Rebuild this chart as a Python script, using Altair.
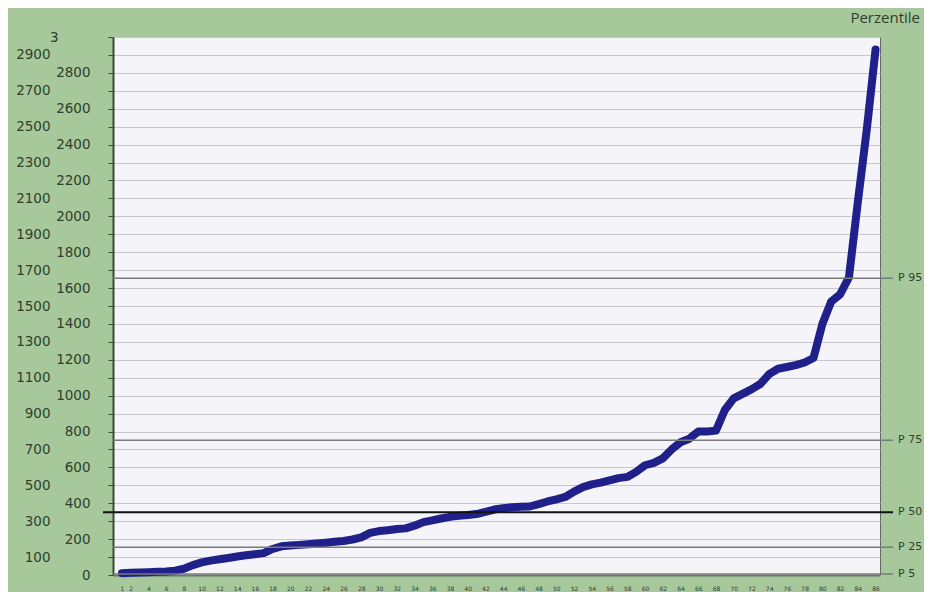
import altair as alt
import pandas as pd

# ---- data ----
x_index = list(range(1, 87))
values = [
    10, 12, 14, 16, 18, 20, 24, 35, 55, 70,
    80, 88, 95, 103, 110, 116, 122, 145, 160, 165,
    168, 172, 176, 180, 185, 190, 198, 210, 235, 245,
    250, 256, 260, 275, 295, 305, 315, 324, 330, 335,
    340, 352, 365, 373, 378, 380, 382, 395, 410, 422,
    435, 465, 490, 505, 515, 528, 540, 547, 575, 612,
    625, 650, 700, 740, 760, 800, 800, 805, 920, 985,
    1010, 1035, 1065, 1120, 1150, 1160, 1170, 1185, 1210, 1400,
    1525, 1565, 1660, 2080, 2480, 2930,
]
percentile_names = ["P 5", "P 25", "P 50", "P 75", "P 95"]
percentile_values = [5, 155, 350, 752, 1655]
y_tick_values = list(range(0, 3001, 100))
x_tick_values = [1] + list(range(2, 87, 2))
title_text = ["Perzentile"]

df = pd.DataFrame({"x": x_index, "v": values})
dp = pd.DataFrame({"name": percentile_names, "value": percentile_values})
dt = pd.DataFrame({"t": title_text})

GREEN = "#a7c89a"
TXT = "#2e3f30"

x_scale = alt.Scale(domain=[0, 86.5], nice=False, zero=False)
y_scale = alt.Scale(domain=[0, 3000], nice=False)

y_axis = alt.Axis(
    values=y_tick_values,
    format="d",
    labelExpr="datum.value === 3000 ? '3' : datum.label",
    labelPadding={
        "condition": [
            {"test": "datum.value === 3000", "value": 50},
            {"test": "datum.value % 200 !== 0", "value": 58},
        ],
        "value": 18,
    },
    labelFont="DejaVu Sans",
    labelFontSize=13.5,
    labelColor=TXT,
    labelBaseline="middle",
    labelOverlap=False,
    labelBound=False,
    tickSize=5,
    tickColor="#3a4a3a",
    domainColor="#3a4a3a",
    domainWidth=2,
    grid=True,
    gridColor="#c6c6cc",
    gridWidth=1,
    title=None,
)

x_axis = alt.Axis(
    values=x_tick_values,
    format="d",
    labelFont="DejaVu Sans",
    labelFontSize=6,
    labelColor=TXT,
    labelPadding=10,
    labelOverlap=False,
    labelAngle=0,
    ticks=False,
    domainColor="#6b7b6b",
    domainWidth=2,
    grid=False,
    title=None,
)

Y = lambda f: alt.Y(f, scale=y_scale, axis=y_axis)

line = alt.Chart(df).mark_line(
    color="#20208a", strokeWidth=8, strokeJoin="round", strokeCap="round"
).encode(
    x=alt.X("x:Q", scale=x_scale, axis=x_axis),
    y=Y("v:Q"),
)

rules_gray = alt.Chart(dp).transform_filter(
    "datum.name !== 'P 50'"
).mark_rule(color="#7a7a7a", strokeWidth=1.5).encode(
    y=Y("value:Q"),
    x=alt.value(0),
    x2=alt.value(780),
)

rule_median = alt.Chart(dp).transform_filter(
    "datum.name === 'P 50'"
).mark_rule(color="#111111", strokeWidth=2).encode(
    y=Y("value:Q"),
    x=alt.value(-10),
    x2=alt.value(780),
)

labels = alt.Chart(dp).mark_text(
    align="left", baseline="middle", font="DejaVu Sans", fontSize=11, color=TXT
).encode(
    y=Y("value:Q"),
    x=alt.value(785),
    text="name:N",
)

title = alt.Chart(dt).mark_text(
    align="right", baseline="middle", font="Open Sans", fontSize=15, color=TXT
).encode(
    x=alt.value(807),
    y=alt.value(-19),
    text="t:N",
)

chart = alt.layer(line, rules_gray, rule_median, labels, title).properties(
    width=767,
    height=538,
    autosize="none",
    padding={"left": 105, "top": 29, "right": 44, "bottom": 17},
    background=GREEN,
).configure_view(
    fill="#f4f4f9", stroke="#666666", strokeWidth=1
)

chart.save("out.html", embed_options={"renderer": "svg", "actions": False})
